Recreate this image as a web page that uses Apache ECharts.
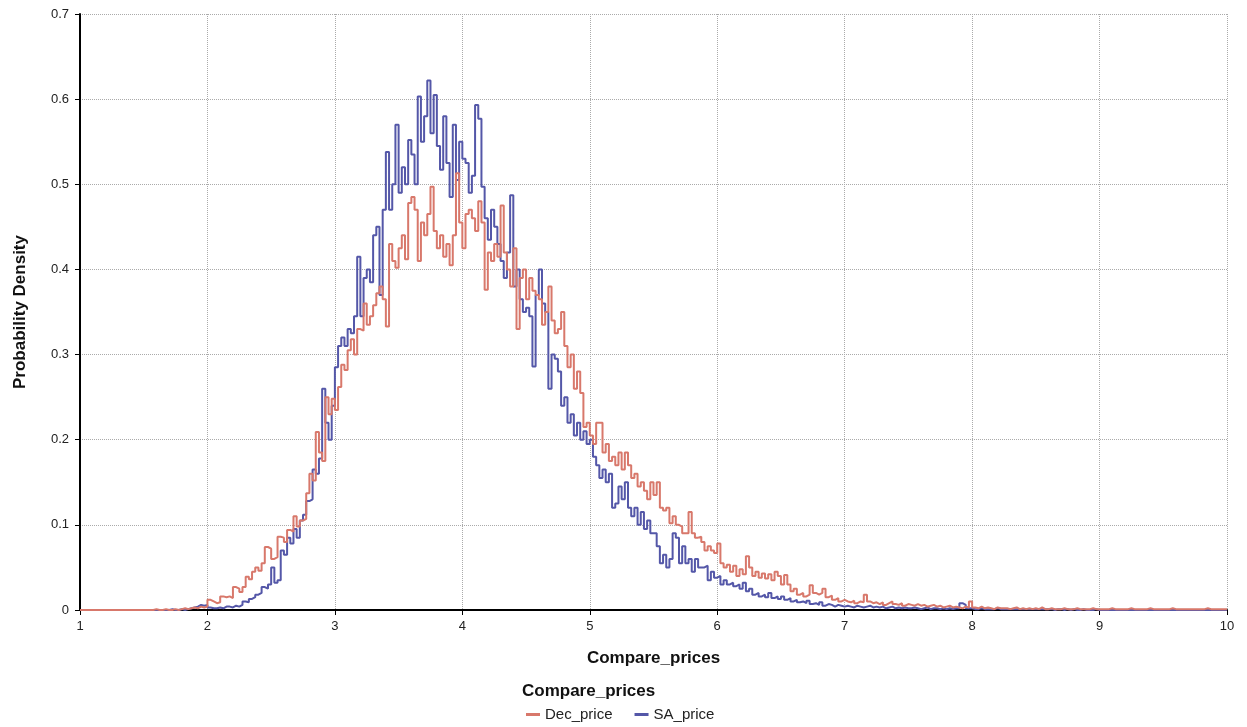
<!DOCTYPE html>
<html>
<head>
<meta charset="utf-8">
<script src="https://cdn.jsdelivr.net/npm/echarts@6/dist/echarts.min.js"></script>
<style>
html,body{margin:0;padding:0;background:#fff;}
#chart{width:1247px;height:727px;}
</style>
</head>
<body>
<div id="chart"></div>
<script>
// Histogram bins: left edges start at binStart, each binWidth wide
const binStart = 1.0;
const binWidth = 0.025;
const xTicks = [1, 2, 3, 4, 5, 6, 7, 8, 9, 10];
const yTicks = [0, 0.1, 0.2, 0.3, 0.4, 0.5, 0.6, 0.7];
const seriesNames = ['Dec_price', 'SA_price'];

const decPrice = [
  0,0,0,0,0,0,0,0,0,0,
  0,0,0,0,0,0,0,0,0,0,
  0,0,0,0.001,0,0,0.001,0,0,0.001,
  0,0.001,0.002,0.001,0.002,0.003,0.002,0.004,0.003,0.004,
  0.012,0.010,0.008,0.009,0.016,0.015,0.016,0.014,0.027,0.025,
  0.021,0.027,0.039,0.036,0.045,0.050,0.046,0.055,0.074,0.072,
  0.060,0.062,0.086,0.085,0.080,0.094,0.092,0.110,0.098,0.105,
  0.107,0.137,0.160,0.152,0.209,0.185,0.175,0.250,0.230,0.248,
  0.235,0.262,0.288,0.282,0.305,0.318,0.300,0.330,0.328,0.360,
  0.335,0.345,0.358,0.372,0.380,0.365,0.333,0.430,0.410,0.402,
  0.425,0.440,0.412,0.478,0.485,0.470,0.410,0.455,0.440,0.465,
  0.497,0.445,0.425,0.440,0.415,0.430,0.405,0.440,0.513,0.455,
  0.425,0.465,0.470,0.460,0.445,0.480,0.455,0.376,0.420,0.410,
  0.430,0.415,0.475,0.420,0.400,0.380,0.425,0.330,0.390,0.400,
  0.365,0.390,0.375,0.370,0.365,0.335,0.350,0.380,0.340,0.325,
  0.330,0.350,0.310,0.285,0.300,0.260,0.280,0.255,0.215,0.220,
  0.205,0.195,0.220,0.220,0.185,0.195,0.175,0.180,0.170,0.185,
  0.165,0.185,0.170,0.155,0.160,0.145,0.150,0.140,0.130,0.150,
  0.135,0.150,0.120,0.117,0.120,0.102,0.110,0.100,0.098,0.090,
  0.090,0.115,0.090,0.085,0.086,0.080,0.070,0.075,0.070,0.067,
  0.078,0.055,0.050,0.053,0.045,0.052,0.040,0.048,0.042,0.063,
  0.050,0.040,0.045,0.038,0.043,0.037,0.042,0.035,0.045,0.040,
  0.030,0.041,0.030,0.022,0.025,0.018,0.020,0.016,0.018,0.029,
  0.020,0.018,0.020,0.025,0.015,0.017,0.012,0.014,0.010,0.012,
  0.010,0.009,0.011,0.008,0.010,0.009,0.018,0.010,0.008,0.009,
  0.007,0.009,0.006,0.008,0.010,0.007,0.006,0.008,0.005,0.007,
  0.006,0.005,0.007,0.005,0.006,0.004,0.005,0.006,0.004,0.005,
  0.003,0.004,0.005,0.003,0.004,0.003,0.002,0.004,0.003,0.010,
  0.003,0.002,0.004,0.002,0.003,0.002,0.001,0.003,0.002,0.002,
  0.002,0.001,0.002,0.003,0.001,0.002,0.001,0.002,0.001,0.002,
  0.001,0.003,0.001,0.001,0.002,0.001,0.001,0.001,0.002,0.001,
  0.001,0.001,0.002,0.001,0.001,0.001,0.001,0.002,0.001,0.001,
  0.001,0.001,0.001,0.002,0.001,0.001,0.001,0.001,0.001,0.002,
  0.001,0.001,0.001,0.001,0.001,0.002,0.001,0.001,0.001,0.001,
  0.001,0.001,0.002,0.001,0.001,0.001,0.001,0.001,0.001,0.001,
  0.001,0.001,0.001,0.002,0.001,0.001,0.001,0.001,0.001,0.001
];

const saPrice = [
  0,0,0,0,0,0,0,0,0,0,
  0,0,0,0,0,0,0,0,0,0,
  0,0,0,0,0,0,0,0,0.001,0,
  0,0.001,0,0.001,0.002,0.003,0.004,0.006,0.005,0.006,
  0.003,0.002,0.002,0.003,0.002,0.004,0.004,0.003,0.005,0.004,
  0.006,0.010,0.009,0.013,0.015,0.018,0.020,0.027,0.025,0.030,
  0.050,0.032,0.035,0.070,0.065,0.085,0.078,0.095,0.085,0.105,
  0.112,0.128,0.130,0.165,0.160,0.178,0.260,0.220,0.200,0.240,
  0.285,0.310,0.320,0.310,0.330,0.325,0.345,0.415,0.345,0.390,
  0.400,0.385,0.440,0.450,0.370,0.470,0.538,0.470,0.500,0.570,
  0.490,0.520,0.500,0.552,0.535,0.500,0.603,0.550,0.580,0.622,
  0.560,0.605,0.545,0.517,0.580,0.525,0.485,0.570,0.505,0.550,
  0.530,0.525,0.490,0.510,0.593,0.577,0.497,0.460,0.435,0.470,
  0.450,0.430,0.410,0.390,0.420,0.487,0.380,0.400,0.365,0.350,
  0.355,0.345,0.286,0.370,0.400,0.360,0.350,0.260,0.300,0.295,
  0.280,0.240,0.250,0.220,0.230,0.205,0.220,0.200,0.210,0.195,
  0.200,0.180,0.170,0.155,0.165,0.150,0.160,0.120,0.125,0.145,
  0.130,0.150,0.120,0.110,0.120,0.100,0.115,0.095,0.105,0.090,
  0.090,0.075,0.055,0.065,0.050,0.060,0.090,0.085,0.055,0.075,
  0.055,0.060,0.045,0.060,0.050,0.050,0.052,0.035,0.045,0.038,
  0.040,0.030,0.035,0.030,0.032,0.028,0.030,0.025,0.032,0.022,
  0.025,0.018,0.020,0.016,0.018,0.015,0.020,0.014,0.016,0.013,
  0.016,0.012,0.014,0.010,0.012,0.009,0.010,0.008,0.011,0.007,
  0.008,0.006,0.009,0.005,0.007,0.006,0.004,0.006,0.005,0.004,
  0.005,0.004,0.003,0.005,0.004,0.003,0.004,0.005,0.003,0.004,
  0.003,0.004,0.002,0.003,0.004,0.002,0.003,0.002,0.003,0.002,
  0.002,0.003,0.002,0.001,0.002,0.003,0.001,0.002,0.002,0.001,
  0.002,0.001,0.002,0.001,0.002,0.002,0.008,0.006,0.002,0.002,
  0.001,0.001,0.002,0.001,0.001,0.001,0.001,0.002,0.001,0.001,
  0.001,0.001,0.001,0.001,0.001,0.001,0.001,0.001,0.001,0.001,
  0.001,0.001,0.001,0.001,0.001,0,0.001,0.001,0,0.001,
  0,0.001,0,0,0.001,0,0,0,0.001,0,
  0,0,0,0,0,0,0,0,0,0,
  0,0,0,0,0,0,0,0,0,0,
  0,0,0,0,0,0,0,0,0,0,
  0,0,0,0,0,0,0,0,0,0
];

function toSteps(values) {
  const pts = values.map((v, i) => [+(binStart + i * binWidth).toFixed(4), v]);
  pts.push([+(binStart + values.length * binWidth).toFixed(4), values[values.length - 1]]);
  return pts;
}

const FONT = "'Liberation Sans', Arial, sans-serif";
const chart = echarts.init(document.getElementById('chart'), null, {renderer: 'canvas'});
chart.setOption({
  animation: false,
  backgroundColor: '#ffffff',
  textStyle: {fontFamily: FONT},
  title: {
    text: 'Compare_prices',
    left: 522, top: 683, padding: 0,
    textStyle: {fontFamily: FONT, fontSize: 17, fontWeight: 'bold', color: '#111'}
  },
  legend: {
    data: seriesNames,
    left: 526, top: 707, padding: 0,
    icon: 'rect',
    itemWidth: 14, itemHeight: 3,
    itemGap: 22,
    textStyle: {fontFamily: FONT, fontSize: 15, color: '#222'}
  },
  grid: {left: 80, right: 20, top: 14, bottom: 117, containLabel: false},
  xAxis: {
    type: 'value',
    min: xTicks[0], max: xTicks[xTicks.length - 1], interval: 1,
    name: 'Compare_prices',
    nameLocation: 'middle',
    nameGap: 40,
    nameTextStyle: {fontFamily: FONT, fontSize: 17, fontWeight: 'bold', color: '#111'},
    axisLine: {show: true, onZero: false, lineStyle: {color: '#000', width: 2}},
    axisTick: {show: true, length: 5, lineStyle: {color: '#000', width: 1}},
    axisLabel: {fontFamily: FONT, fontSize: 13, color: '#222', margin: 10},
    splitLine: {show: true, lineStyle: {color: '#aaa', type: 'dotted', width: 1}}
  },
  yAxis: {
    type: 'value',
    min: yTicks[0], max: yTicks[yTicks.length - 1], interval: 0.1,
    name: 'Probability Density',
    nameLocation: 'middle',
    nameGap: 51,
    nameRotate: 90,
    nameTextStyle: {fontFamily: FONT, fontSize: 17, fontWeight: 'bold', color: '#111'},
    axisLine: {show: true, lineStyle: {color: '#000', width: 2}},
    axisTick: {show: true, length: 5, lineStyle: {color: '#000', width: 1}},
    axisLabel: {fontFamily: FONT, fontSize: 13, color: '#222', margin: 11,
      formatter: v => String(+v.toFixed(1))},
    splitLine: {show: true, lineStyle: {color: '#aaa', type: 'dotted', width: 1}}
  },
  series: [
    {
      name: seriesNames[1], type: 'line', step: 'end',
      data: toSteps(saPrice), showSymbol: false, symbol: 'none',
      color: '#5457a8',
      lineStyle: {color: '#5457a8', width: 2}, z: 2
    },
    {
      name: seriesNames[0], type: 'line', step: 'end',
      data: toSteps(decPrice), showSymbol: false, symbol: 'none',
      color: '#d8786b',
      lineStyle: {color: '#d8786b', width: 2}, z: 3
    }
  ]
});
</script>
</body>
</html>
